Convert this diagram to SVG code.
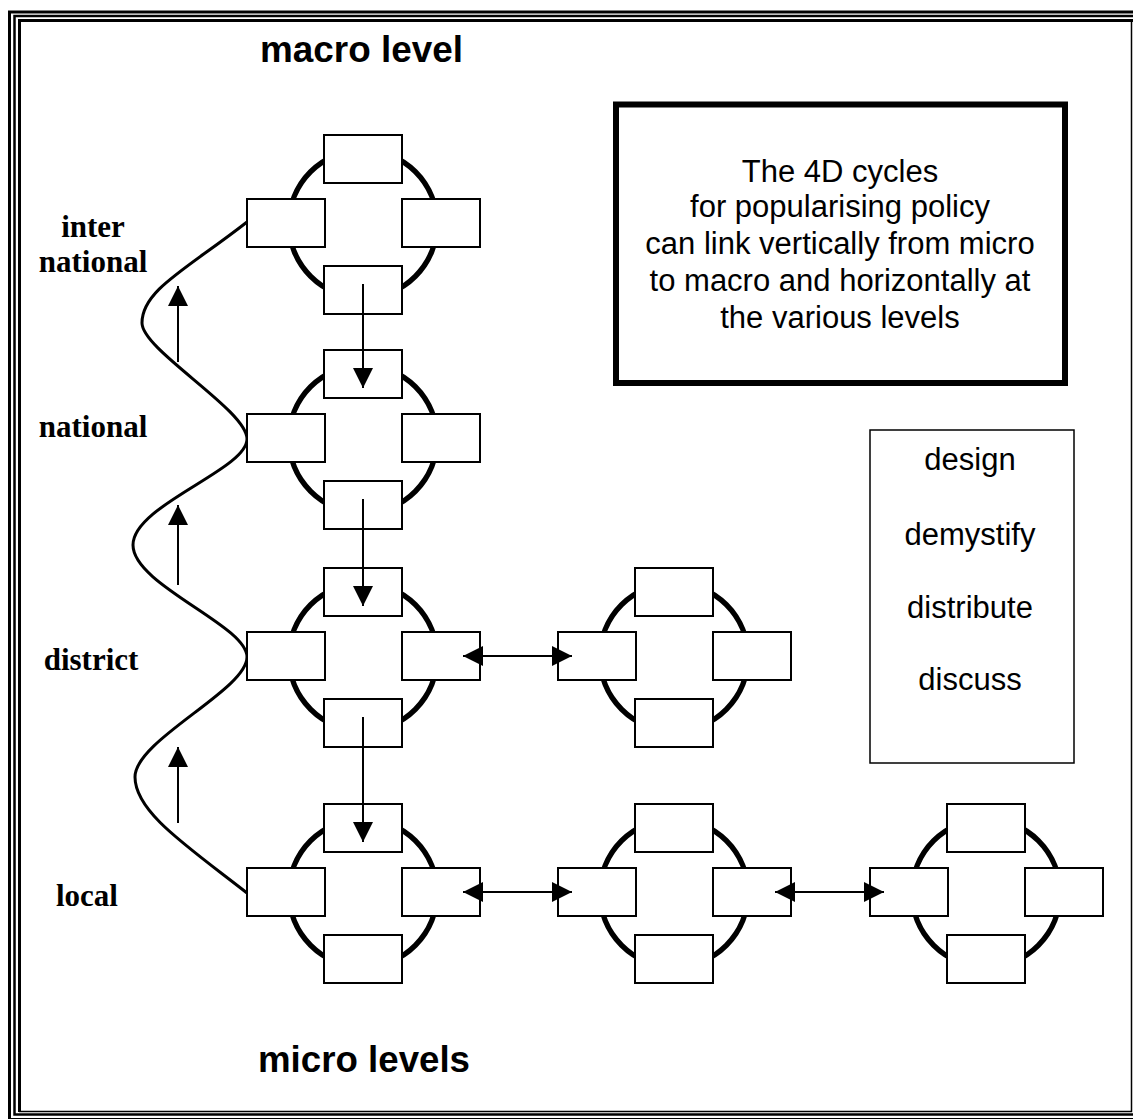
<svg xmlns="http://www.w3.org/2000/svg" width="1133" height="1119" viewBox="0 0 1133 1119">
<style>
.ring{fill:none;stroke:#000;stroke-width:5.5}
.box{fill:#fff;stroke:#000;stroke-width:2}
.arr{fill:none;stroke:#000;stroke-width:2}
.wave{fill:none;stroke:#000;stroke-width:3}
.title{font-family:"Liberation Sans",Arial,sans-serif;font-weight:bold;font-size:36px;fill:#000}
.lvl{font-family:"Liberation Serif","Times New Roman",serif;font-weight:bold;font-size:31px;fill:#000;text-anchor:middle}
.body{font-family:"Liberation Sans",Arial,sans-serif;font-size:31px;fill:#000;text-anchor:middle}
</style>
<defs>
<marker id="ah" viewBox="0 0 20 20" refX="20" refY="10" markerWidth="20" markerHeight="20" markerUnits="userSpaceOnUse" orient="auto-start-reverse">
<path d="M0,0 L20,10 L0,20 Z" fill="#000"/>
</marker>
</defs>
<rect width="1133" height="1119" fill="#fff"/>
<g id="border" fill="none" stroke="#000">
<rect x="9.5" y="12" width="1300" height="1107.5" stroke-width="3"/>
<rect x="14.5" y="16" width="1300" height="1098.5" stroke-width="2.5"/>
<path d="M19.5,1112 V20.5 H1133" stroke-width="3"/>
<path d="M1131.5,20 V1111.5 H19" stroke-width="1.5"/>
</g>
<g id="wave">
<path class="wave" d="M247,222 C187,269 142,290 142,323 C142,350 247,410 247,439 C247,470 133,505 133,545 C133,585 247,625 247,657 C247,690 135,740 135,777 C135,812 187,846 247,893"/>
</g>
<g id="cycle-international" transform="translate(363,224)">
<circle class="ring" r="74"/>
<rect class="box" x="-39" y="-89" width="78" height="48"/>
<rect class="box" x="-116" y="-25" width="78" height="48"/>
<rect class="box" x="39" y="-25" width="78" height="48"/>
<rect class="box" x="-39" y="42" width="78" height="48"/>
</g>
<g id="cycle-national" transform="translate(363,439)">
<circle class="ring" r="74"/>
<rect class="box" x="-39" y="-89" width="78" height="48"/>
<rect class="box" x="-116" y="-25" width="78" height="48"/>
<rect class="box" x="39" y="-25" width="78" height="48"/>
<rect class="box" x="-39" y="42" width="78" height="48"/>
</g>
<g id="cycle-district-1" transform="translate(363,657)">
<circle class="ring" r="74"/>
<rect class="box" x="-39" y="-89" width="78" height="48"/>
<rect class="box" x="-116" y="-25" width="78" height="48"/>
<rect class="box" x="39" y="-25" width="78" height="48"/>
<rect class="box" x="-39" y="42" width="78" height="48"/>
</g>
<g id="cycle-district-2" transform="translate(674,657)">
<circle class="ring" r="74"/>
<rect class="box" x="-39" y="-89" width="78" height="48"/>
<rect class="box" x="-116" y="-25" width="78" height="48"/>
<rect class="box" x="39" y="-25" width="78" height="48"/>
<rect class="box" x="-39" y="42" width="78" height="48"/>
</g>
<g id="cycle-local-1" transform="translate(363,893)">
<circle class="ring" r="74"/>
<rect class="box" x="-39" y="-89" width="78" height="48"/>
<rect class="box" x="-116" y="-25" width="78" height="48"/>
<rect class="box" x="39" y="-25" width="78" height="48"/>
<rect class="box" x="-39" y="42" width="78" height="48"/>
</g>
<g id="cycle-local-2" transform="translate(674,893)">
<circle class="ring" r="74"/>
<rect class="box" x="-39" y="-89" width="78" height="48"/>
<rect class="box" x="-116" y="-25" width="78" height="48"/>
<rect class="box" x="39" y="-25" width="78" height="48"/>
<rect class="box" x="-39" y="42" width="78" height="48"/>
</g>
<g id="cycle-local-3" transform="translate(986,893)">
<circle class="ring" r="74"/>
<rect class="box" x="-39" y="-89" width="78" height="48"/>
<rect class="box" x="-116" y="-25" width="78" height="48"/>
<rect class="box" x="39" y="-25" width="78" height="48"/>
<rect class="box" x="-39" y="42" width="78" height="48"/>
</g>
<g id="connectors">
<line class="arr" x1="363" y1="284" x2="363" y2="388" marker-end="url(#ah)"/>
<line class="arr" x1="363" y1="499" x2="363" y2="606" marker-end="url(#ah)"/>
<line class="arr" x1="363" y1="717" x2="363" y2="842" marker-end="url(#ah)"/>
<line class="arr" x1="178" y1="362" x2="178" y2="286" marker-end="url(#ah)"/>
<line class="arr" x1="178" y1="585" x2="178" y2="505" marker-end="url(#ah)"/>
<line class="arr" x1="178" y1="823" x2="178" y2="747" marker-end="url(#ah)"/>
<line class="arr" x1="463" y1="656" x2="572" y2="656" marker-start="url(#ah)" marker-end="url(#ah)"/>
<line class="arr" x1="463" y1="892" x2="572" y2="892" marker-start="url(#ah)" marker-end="url(#ah)"/>
<line class="arr" x1="775" y1="892" x2="884" y2="892" marker-start="url(#ah)" marker-end="url(#ah)"/>
</g>
<g id="titles">
<text class="title" x="260" y="62" textLength="203" lengthAdjust="spacingAndGlyphs">macro level</text>
<text class="title" x="258" y="1072" textLength="212" lengthAdjust="spacingAndGlyphs">micro levels</text>
</g>
<g id="level-labels">
<text class="lvl" x="93" y="237">inter</text>
<text class="lvl" x="93" y="272">national</text>
<text class="lvl" x="93" y="437">national</text>
<text class="lvl" x="91" y="670">district</text>
<text class="lvl" x="87" y="906">local</text>
</g>
<g id="note">
<rect x="616" y="104.5" width="449" height="278.5" fill="none" stroke="#000" stroke-width="6"/>
<text class="body" x="840" y="182">The 4D cycles</text>
<text class="body" x="840" y="217">for popularising policy</text>
<text class="body" x="840" y="254">can link vertically from micro</text>
<text class="body" x="840" y="291">to macro and horizontally at</text>
<text class="body" x="840" y="328">the various levels</text>
</g>
<g id="legend">
<rect x="870" y="430" width="204" height="333" fill="none" stroke="#000" stroke-width="1.5"/>
<text class="body" x="970" y="470">design</text>
<text class="body" x="970" y="545">demystify</text>
<text class="body" x="970" y="618">distribute</text>
<text class="body" x="970" y="690">discuss</text>
</g>
</svg>
